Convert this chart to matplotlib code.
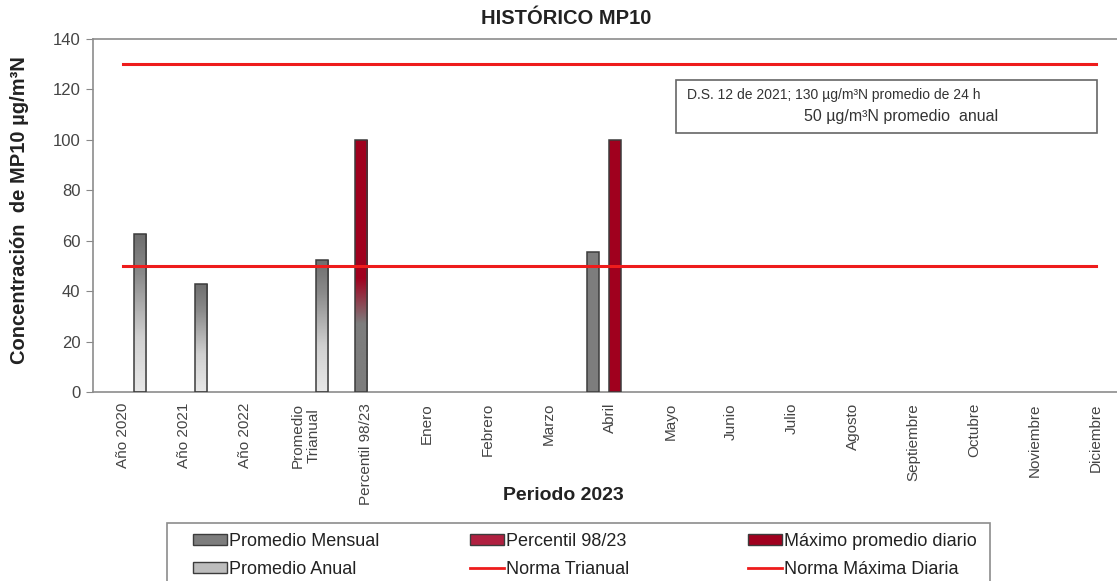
import numpy as np
import matplotlib.pyplot as plt
from matplotlib.patches import Patch, Rectangle
from matplotlib.lines import Line2D
from matplotlib.colors import LinearSegmentedColormap

plt.rcParams['font.family'] = ['Liberation Sans', 'DejaVu Sans']

nan = np.nan
categorias = ['Año 2020', 'Año 2021', 'Año 2022', 'Promedio\nTrianual', 'Percentil 98/23',
              'Enero', 'Febrero', 'Marzo', 'Abril', 'Mayo', 'Junio', 'Julio', 'Agosto',
              'Septiembre', 'Octubre', 'Noviembre', 'Diciembre']

# valores en ug/m3N por categoria
promedio_mensual = [nan, nan, nan, nan, nan, nan, nan, nan, 55.5, nan, nan, nan, nan, nan, nan, nan, nan]
percentil_98 = [nan, nan, nan, nan, 100, nan, nan, nan, nan, nan, nan, nan, nan, nan, nan, nan, nan]
maximo_diario = [nan, nan, nan, nan, nan, nan, nan, nan, 100, nan, nan, nan, nan, nan, nan, nan, nan]
promedio_anual = [62.5, 43, nan, 52.5, nan, nan, nan, nan, nan, nan, nan, nan, nan, nan, nan, nan, nan]
norma_trianual = [50, 50, 50, 50, 50, 50, 50, 50, 50, 50, 50, 50, 50, 50, 50, 50, 50]
norma_diaria = [130, 130, 130, 130, 130, 130, 130, 130, 130, 130, 130, 130, 130, 130, 130, 130, 130]

W, H = 1117, 581
fig = plt.figure(figsize=(W / 100, H / 100), dpi=100)
ax = fig.add_axes([93 / W, 1 - 392 / H, 1033 / W, 353 / H])

x = np.arange(len(categorias))
slot = 0.182
ancho = 0.2
borde = '#3c3c3c'

gris = '#7d7d7d'
rojo = '#a0001e'
cmap_anual = LinearSegmentedColormap.from_list('anual', [(0, '#e8e8e8'), (0.35, '#d0d0d0'), (0.75, '#8a8a8a'), (1, '#6e6e6e')])
cmap_perc = LinearSegmentedColormap.from_list('perc', [(0, gris), (0.27, gris), (0.45, rojo), (1, rojo)])


def barras(xs, vals, color=None, cmap=None):
    for xi, v in zip(xs, vals):
        if np.isnan(v):
            continue
        if cmap is None:
            ax.bar(xi, v, width=ancho, color=color, edgecolor=borde, lw=1.1, zorder=3)
        else:
            rect = ax.bar(xi, v, width=ancho, facecolor='none', edgecolor=borde, lw=1.1, zorder=3)[0]
            grad = np.linspace(0, 1, 256).reshape(-1, 1)
            im = ax.imshow(grad, extent=(xi - ancho / 2, xi + ancho / 2, 0, v), origin='lower',
                           aspect='auto', cmap=cmap, zorder=2)
            im.set_clip_path(rect)


barras(x - 1.5 * slot, promedio_mensual, color=gris)
barras(x - 0.5 * slot, percentil_98, cmap=cmap_perc)
barras(x + 0.5 * slot, maximo_diario, color=rojo)
barras(x + 1.5 * slot, promedio_anual, cmap=cmap_anual)

ax.plot(x, norma_trianual, color='#ee1c1c', lw=2.2, zorder=4)
ax.plot(x, norma_diaria, color='#ee1c1c', lw=2.2, zorder=4)

ax.set_xlim(-0.5, len(categorias) - 0.5)
ax.set_ylim(0, 140)
ax.set_yticks(np.arange(0, 141, 20))
ax.set_xticks(x)
ax.set_xticklabels(categorias, rotation=90, fontsize=11, color='#444444', multialignment='center')
ax.tick_params(axis='x', length=0, pad=8)
ax.tick_params(axis='y', length=5, color='#888888', labelsize=12, labelcolor='#444444', pad=4)
for s in ['left', 'top', 'bottom']:
    ax.spines[s].set_color('#8c8c8c')
    ax.spines[s].set_linewidth(1.2)
ax.spines['right'].set_visible(False)

fig.text(566 / W, 1 - 18 / H, 'HISTÓRICO MP10', ha='center', va='center', fontsize=14.5, fontweight='bold', color='#222222')
fig.text(20 / W, 1 - 210 / H, 'Concentración  de MP10 µg/m³N', ha='center', va='center', rotation=90,
         fontsize=14.5, fontweight='bold', color='#222222')
fig.text(563 / W, 1 - 496 / H, 'Periodo 2023', ha='center', va='center', fontsize=14, fontweight='bold', color='#222222')

# recuadro con la norma
fig.patches.append(Rectangle((676 / W, 1 - 133 / H), 421 / W, 53 / H, transform=fig.transFigure,
                             facecolor='white', edgecolor='#666666', lw=1.2, zorder=5))
fig.text(687 / W, 1 - 95 / H, 'D.S. 12 de 2021; 130 µg/m³N promedio de 24 h', ha='left', va='center',
         fontsize=10, color='#333333', zorder=6)
fig.text(804 / W, 1 - 117 / H, '50 µg/m³N promedio  anual', ha='left', va='center',
         fontsize=11.5, color='#333333', zorder=6)

# leyenda en tres columnas dentro de un marco comun
fig.patches.append(Rectangle((167 / W, -0.02), 823 / W, (581 - 523) / H + 0.02, transform=fig.transFigure,
                             facecolor='white', edgecolor='#8c8c8c', lw=1.2))
columnas = [
    ([Patch(facecolor=gris, edgecolor=borde), Patch(facecolor='#bdbdbd', edgecolor=borde)],
     ['Promedio Mensual', 'Promedio Anual'], 193),
    ([Patch(facecolor='#b02040', edgecolor=borde), Line2D([], [], color='#ee1c1c', lw=2)],
     ['Percentil 98/23', 'Norma Trianual'], 470),
    ([Patch(facecolor=rojo, edgecolor=borde), Line2D([], [], color='#ee1c1c', lw=2)],
     ['Máximo promedio diario', 'Norma Máxima Diaria'], 748),
]
for handles, labels, x0 in columnas:
    leg = fig.legend(handles, labels, loc='upper left', bbox_to_anchor=(x0 / W, 1 - 533 / H),
                     frameon=False, fontsize=13, handlelength=1.9, handleheight=0.55,
                     handletextpad=0.12, labelspacing=0.6, borderpad=0, borderaxespad=0)
    for t in leg.get_texts():
        t.set_color('#222222')

fig.savefig('out.png', dpi=100)
